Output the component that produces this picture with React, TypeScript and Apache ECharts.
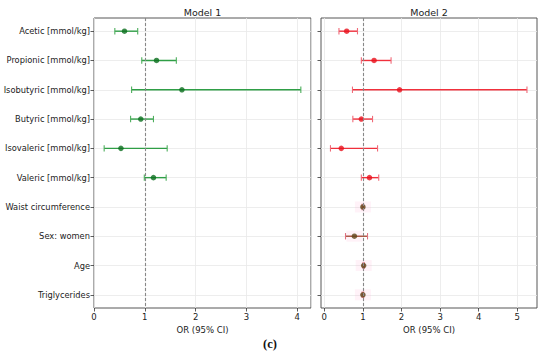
import React, { useEffect, useRef } from "react";
import * as echarts from "echarts";

const categories = [
  "Acetic [mmol/kg]",
  "Propionic [mmol/kg]",
  "Isobutyric [mmol/kg]",
  "Butyric [mmol/kg]",
  "Isovaleric [mmol/kg]",
  "Valeric [mmol/kg]",
  "Waist circumference",
  "Sex: women",
  "Age",
  "Triglycerides",
];

const m1Or = [0.6, 1.23, 1.73, 0.92, 0.53, 1.17];
const m1Lo = [0.41, 0.94, 0.74, 0.72, 0.2, 0.99];
const m1Hi = [0.86, 1.62, 4.07, 1.17, 1.44, 1.42];

const m2Or = [0.58, 1.29, 1.95, 0.96, 0.44, 1.17, 1.0, 0.78, 1.02, 1.0];
const m2Lo = [0.38, 0.96, 0.73, 0.74, 0.16, 0.96, 0.98, 0.55, 1.0, 0.98];
const m2Hi = [0.86, 1.73, 5.25, 1.25, 1.38, 1.41, 1.02, 1.12, 1.04, 1.02];

const x2Ticks = [0, 1, 2, 3, 4, 5];
const rowIdx = categories.map((_, i) => i);

const FONT = "DejaVu Sans";

function makeRender(barColor: string, capColor: string, covBar: string, covCap: string) {
  return (params: any, api: any) => {
    const idx = api.value(2);
    const lo = api.coord([api.value(0), idx]);
    const hi = api.coord([api.value(1), idx]);
    const cov = idx >= 6;
    const bc = cov ? covBar : barColor;
    const cc = cov ? covCap : capColor;
    const h = 3.2;
    const children: any[] = [];
    if (cov) {
      const mid = api.coord([api.value(3), idx]);
      children.push({
        type: "rect",
        shape: { x: mid[0] - 8, y: mid[1] - 5.5, width: 16, height: 11 },
        style: { fill: "rgba(255,150,200,0.12)" },
      });
    }
    children.push(
      {
        type: "line",
        shape: { x1: lo[0], y1: lo[1], x2: hi[0], y2: hi[1] },
        style: { stroke: bc, lineWidth: 1.4 },
      },
      {
        type: "line",
        shape: { x1: lo[0], y1: lo[1] - h, x2: lo[0], y2: lo[1] + h },
        style: { stroke: cc, lineWidth: 1.1 },
      },
      {
        type: "line",
        shape: { x1: hi[0], y1: hi[1] - h, x2: hi[0], y2: hi[1] + h },
        style: { stroke: cc, lineWidth: 1.1 },
      }
    );
    return { type: "group", children };
  };
}

export default function App() {
  const ref = useRef<HTMLDivElement>(null);
  useEffect(() => {
    if (!ref.current) return;
    const chart = echarts.init(ref.current, null, { renderer: "svg" });

    const xName = {
      name: "OR (95% CI)",
      nameLocation: "middle",
      nameGap: 11,
      nameTextStyle: { fontFamily: FONT, fontSize: 8.5, color: "#222" },
      axisLine: { show: false, onZero: false },
    };
    const tickStyle = { length: 3.5, lineStyle: { color: "#333", width: 0.8 } };
    const labelStyle = { fontFamily: FONT, fontSize: 8.5, color: "#222", margin: 4 };
    const gridLine = { show: true, lineStyle: { color: "#e8e8e8", width: 0.8 } };

    const yAxisCommon = (gridIndex: number, showLabels: boolean) => ({
      type: "value",
      gridIndex,
      min: -0.45,
      max: 9.45,
      inverse: true,
      axisLine: { show: false, onZero: false },
      axisTick: { show: true, customValues: rowIdx, ...tickStyle },
      axisLabel: {
        show: showLabels,
        customValues: rowIdx,
        formatter: (v: number) => categories[Math.round(v)] ?? "",
        fontFamily: FONT,
        fontSize: 8.3,
        color: "#222",
        margin: 4,
      },
      splitLine: gridLine,
    });

    const refLine = {
      silent: true,
      symbol: "none",
      label: { show: false },
      lineStyle: { color: "#888", type: [3, 2], width: 1.1 },
      data: [{ xAxis: 1 }],
    };

    chart.setOption({
      animation: false,
      backgroundColor: "#fff",
      grid: [
        { left: 94, top: 18, width: 217, height: 290, show: true, borderColor: "#444", borderWidth: 0.9, backgroundColor: "transparent" },
        { left: 321, top: 18, width: 216, height: 290, show: true, borderColor: "#444", borderWidth: 0.9, backgroundColor: "transparent" },
      ],
      xAxis: [
        {
          type: "value",
          gridIndex: 0,
          min: 0,
          max: 4.27,
          interval: 1,
          ...xName,
          axisTick: { show: true, ...tickStyle },
          axisLabel: { ...labelStyle, showMaxLabel: false },
          splitLine: gridLine,
        },
        {
          type: "value",
          gridIndex: 1,
          min: -0.085,
          max: 5.51,
          ...xName,
          axisTick: { show: true, customValues: x2Ticks, ...tickStyle },
          axisLabel: { customValues: x2Ticks, ...labelStyle },
          splitLine: gridLine,
        },
      ],
      yAxis: [yAxisCommon(0, true), yAxisCommon(1, false)],
      graphic: [
        { type: "text", x: 202.5, y: 12, style: { text: "Model 1", fontFamily: FONT, fontSize: 9.5, fill: "#222", align: "center", verticalAlign: "middle" } },
        { type: "text", x: 429, y: 12, style: { text: "Model 2", fontFamily: FONT, fontSize: 9.5, fill: "#222", align: "center", verticalAlign: "middle" } },
        { type: "text", x: 270, y: 344, style: { text: "(c)", fontFamily: "Liberation Serif", fontWeight: "bold", fontSize: 12.5, fill: "#111", align: "center", verticalAlign: "middle" } },
      ],
      series: [
        {
          type: "custom",
          xAxisIndex: 0,
          yAxisIndex: 0,
          renderItem: makeRender("#2f9e46", "#4cae5c", "#2f9e46", "#4cae5c"),
          data: m1Or.map((v, i) => [m1Lo[i], m1Hi[i], i, v]),
          z: 3,
        },
        {
          type: "scatter",
          xAxisIndex: 0,
          yAxisIndex: 0,
          symbolSize: 5.5,
          itemStyle: { color: "#0b6e1e" },
          data: m1Or.map((v, i) => [v, i]),
          markLine: refLine,
          z: 4,
        },
        {
          type: "custom",
          xAxisIndex: 1,
          yAxisIndex: 1,
          renderItem: makeRender("#f0303c", "#f06a78", "#a8503c", "#e07080"),
          data: m2Or.map((v, i) => [m2Lo[i], m2Hi[i], i, v]),
          z: 3,
        },
        {
          type: "scatter",
          xAxisIndex: 1,
          yAxisIndex: 1,
          symbolSize: 5.5,
          itemStyle: {
            color: (p: any) => (p.dataIndex >= 6 ? "#5e4216" : "#e8101c"),
          },
          data: m2Or.map((v, i) => [v, i]),
          markLine: refLine,
          z: 4,
        },
      ],
    });
    return () => chart.dispose();
  }, []);
  return (
    <div
      ref={ref}
      style={{ position: "fixed", left: 0, top: 0, width: 550, height: 355, background: "#fff" }}
    />
  );
}
